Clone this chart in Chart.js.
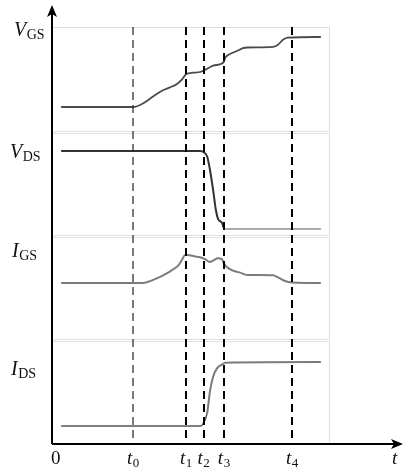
<!DOCTYPE html>
<html>
<head>
<meta charset="utf-8">
<title>Switching waveforms</title>
<script src="https://cdn.jsdelivr.net/npm/chart.js@4.4.1/dist/chart.umd.min.js"></script>
<style>
  html, body { margin: 0; padding: 0; background: #fff; }
  canvas { display: block; }
</style>
</head>
<body>
<canvas id="myChart" width="405" height="471"></canvas>
<script>
// switching instants on the t axis (axis runs 0..100, arbitrary units)
const timeLabels = ['0', '1', '2', '3', '4'];
const timeValues = [23.1, 38.2, 43.2, 49.0, 68.4];
const panelEnd = 78.9;

// V_GS, normalised (0 = off level, 1 = final level)
const vgsTime = [2.6, 23.1, 25.9, 28.8, 31.6, 33.6, 35.6, 37.0, 38.2, 40.2, 42.2, 45.9, 48.4, 49.0, 49.3, 50.1, 52.7, 54.4, 55.6, 63.0, 64.4, 65.8, 67.2, 76.6];
const vgsValues = [0, 0, 0.05, 0.15, 0.24, 0.28, 0.33, 0.39, 0.47, 0.49, 0.50, 0.59, 0.62, 0.65, 0.70, 0.74, 0.80, 0.84, 0.85, 0.86, 0.89, 0.96, 0.99, 1.0];

// V_DS
const vdsTime = [2.6, 42.2, 43.0, 44.2, 45.0, 45.9, 46.7, 47.3, 48.4, 49.0, 49.9, 76.6];
const vdsValues = [1, 1, 0.99, 0.93, 0.76, 0.50, 0.24, 0.13, 0.08, 0.01, 0, 0];

// I_GS
const igsTime = [2.6, 25.9, 28.8, 30.8, 32.8, 34.5, 35.9, 37.0, 37.9, 38.5, 40.7, 42.2, 43.6, 45.0, 45.9, 47.3, 48.4, 49.0, 49.9, 51.6, 53.6, 55.6, 63.0, 64.4, 66.4, 68.4, 76.6];
const igsValues = [0, 0, 0.11, 0.22, 0.35, 0.49, 0.61, 0.82, 1.0, 1.0, 0.95, 0.92, 0.85, 0.75, 0.80, 0.88, 0.85, 0.70, 0.56, 0.44, 0.37, 0.29, 0.28, 0.20, 0.07, 0.02, 0];

// I_DS
const idsTime = [2.6, 42.2, 43.0, 44.2, 45.0, 45.9, 47.0, 48.4, 49.3, 76.6];
const idsValues = [0, 0, 0.03, 0.20, 0.54, 0.77, 0.90, 0.96, 0.99, 1.0];

const panelIds = ['vgs', 'vds', 'igs', 'ids'];
// label text + where it sits relative to the panel
const panelLabels = [
    { main: 'V', sub: 'GS', dx: 14, dy: 31 },
    { main: 'V', sub: 'DS', dx: 10, dy: 26 },
    { main: 'I', sub: 'GS', dx: 12, dy: 21 },
    { main: 'I', sub: 'DS', dx: 11, dy: 35 },
];

const FONT = '"Liberation Serif", "Times New Roman", serif';

function toPoints(xs, ys) {
    return xs.map((x, i) => ({ x: x, y: ys[i] }));
}

function subText(ctx, main, sub, x, y, size, italic, draw) {
    ctx.font = (italic ? 'italic ' : '') + size + 'px ' + FONT;
    const w1 = ctx.measureText(main).width;
    if (draw) ctx.fillText(main, x, y);
    ctx.font = Math.round(size * 0.68) + 'px ' + FONT;
    const w2 = ctx.measureText(sub).width;
    if (draw) ctx.fillText(sub, x + w1 + 0.5, y + 3);
    return w1 + w2 + 0.5;
}

const waveformDecor = {
    id: 'waveformDecor',
    beforeDatasetsDraw(chart) {
        const { ctx, scales } = chart;
        const xs = scales.x;
        const right = Math.round(xs.getPixelForValue(panelEnd)) + 0.5;
        ctx.save();
        ctx.strokeStyle = '#e0e0e0';
        ctx.lineWidth = 1;
        panelIds.forEach((id, i) => {
            const s = scales[id];
            const top = Math.round(s.top + (i === 0 ? 22 : 1)) + 0.5;
            const bot = Math.round(s.bottom - 1) + 0.5;
            ctx.strokeRect(xs.left, top, right - xs.left, bot - top);
        });
        ctx.restore();
    },
    afterDatasetsDraw(chart) {
        const { ctx, scales, chartArea } = chart;
        const xs = scales.x;
        const top = scales.vgs.top + 22;
        const bottom = chartArea.bottom;
        const left = chartArea.left;

        ctx.save();
        // dashed markers
        timeValues.forEach((t, i) => {
            const px = Math.round(xs.getPixelForValue(t));
            ctx.beginPath();
            ctx.setLineDash([8, 5]);
            ctx.lineWidth = i === 0 ? 1.2 : 2;
            ctx.strokeStyle = i === 0 ? '#222' : '#000';
            ctx.moveTo(px, top);
            ctx.lineTo(px, bottom);
            ctx.stroke();
        });
        ctx.setLineDash([]);

        // axes with arrow heads
        ctx.strokeStyle = '#000';
        ctx.fillStyle = '#000';
        ctx.lineWidth = 2;
        ctx.beginPath();
        ctx.moveTo(left, bottom);
        ctx.lineTo(left, chartArea.top + 8);
        ctx.moveTo(left, bottom);
        ctx.lineTo(chartArea.right - 8, bottom);
        ctx.stroke();

        ctx.beginPath();
        ctx.moveTo(left, chartArea.top);
        ctx.lineTo(left - 5, chartArea.top + 12);
        ctx.lineTo(left, chartArea.top + 9);
        ctx.lineTo(left + 5, chartArea.top + 12);
        ctx.closePath();
        ctx.fill();

        ctx.beginPath();
        ctx.moveTo(chartArea.right, bottom);
        ctx.lineTo(chartArea.right - 12, bottom - 5);
        ctx.lineTo(chartArea.right - 9, bottom);
        ctx.lineTo(chartArea.right - 12, bottom + 5);
        ctx.closePath();
        ctx.fill();

        // panel names
        ctx.fillStyle = '#111';
        ctx.textBaseline = 'alphabetic';
        ctx.textAlign = 'left';
        panelLabels.forEach((lb, i) => {
            const s = scales[panelIds[i]];
            subText(ctx, lb.main, lb.sub, lb.dx, s.top + lb.dy, 20, true, true);
        });

        // t axis labels
        const baseY = bottom + 20;
        ctx.font = '19px ' + FONT;
        ctx.fillText('0', left - 1, baseY);
        timeValues.forEach((t, i) => {
            const px = xs.getPixelForValue(t);
            const w = subText(ctx, 't', timeLabels[i], 0, 0, 19, true, false);
            subText(ctx, 't', timeLabels[i], px - w / 2, baseY, 19, true, true);
        });
        ctx.font = 'italic 19px ' + FONT;
        ctx.fillText('t', chartArea.right - 11, baseY);
        ctx.restore();
    }
};

const ctx = document.getElementById('myChart').getContext('2d');
new Chart(ctx, {
    type: 'line',
    data: {
        datasets: [
            {
                label: 'VGS',
                data: toPoints(vgsTime, vgsValues),
                yAxisID: 'vgs',
                borderColor: '#4a4a4a',
                borderWidth: 1.8,
            },
            {
                label: 'VDS',
                data: toPoints(vdsTime, vdsValues),
                yAxisID: 'vds',
                borderColor: '#333',
                borderWidth: 2,
                segment: {
                    borderWidth: c => c.p0.parsed.x >= timeValues[3] ? 1 : 2,
                    borderColor: c => c.p0.parsed.x >= timeValues[3] ? '#555' : '#333',
                },
            },
            {
                label: 'IGS',
                data: toPoints(igsTime, igsValues),
                yAxisID: 'igs',
                borderColor: '#7c7c7c',
                borderWidth: 2,
            },
            {
                label: 'IDS',
                data: toPoints(idsTime, idsValues),
                yAxisID: 'ids',
                borderColor: '#777',
                borderWidth: 2,
                segment: {
                    borderColor: c => c.p0.parsed.x < timeValues[2] ? '#555' : '#7a7a7a',
                    borderWidth: c => c.p0.parsed.x < timeValues[2] ? 1.5 : 2,
                },
            },
        ],
    },
    options: {
        responsive: false,
        animation: false,
        layout: { padding: { left: 52, right: 2, top: 5, bottom: 27 } },
        plugins: {
            legend: { display: false },
            tooltip: { enabled: false },
        },
        elements: {
            point: { radius: 0 },
            line: { cubicInterpolationMode: 'monotone', fill: false },
        },
        scales: {
            x: { type: 'linear', min: 0, max: 100, display: false },
            vgs: { type: 'linear', position: 'right', stack: 'sig', stackWeight: 127, min: -0.357, max: 1.457, display: false },
            vds: { type: 'linear', position: 'right', stack: 'sig', stackWeight: 104, min: -0.090, max: 1.244, display: false },
            igs: { type: 'linear', position: 'right', stack: 'sig', stackWeight: 104, min: -2.036, max: 1.679, display: false },
            ids: { type: 'linear', position: 'right', stack: 'sig', stackWeight: 104, min: -0.281, max: 1.344, display: false },
        },
    },
    plugins: [waveformDecor],
});
</script>
</body>
</html>
